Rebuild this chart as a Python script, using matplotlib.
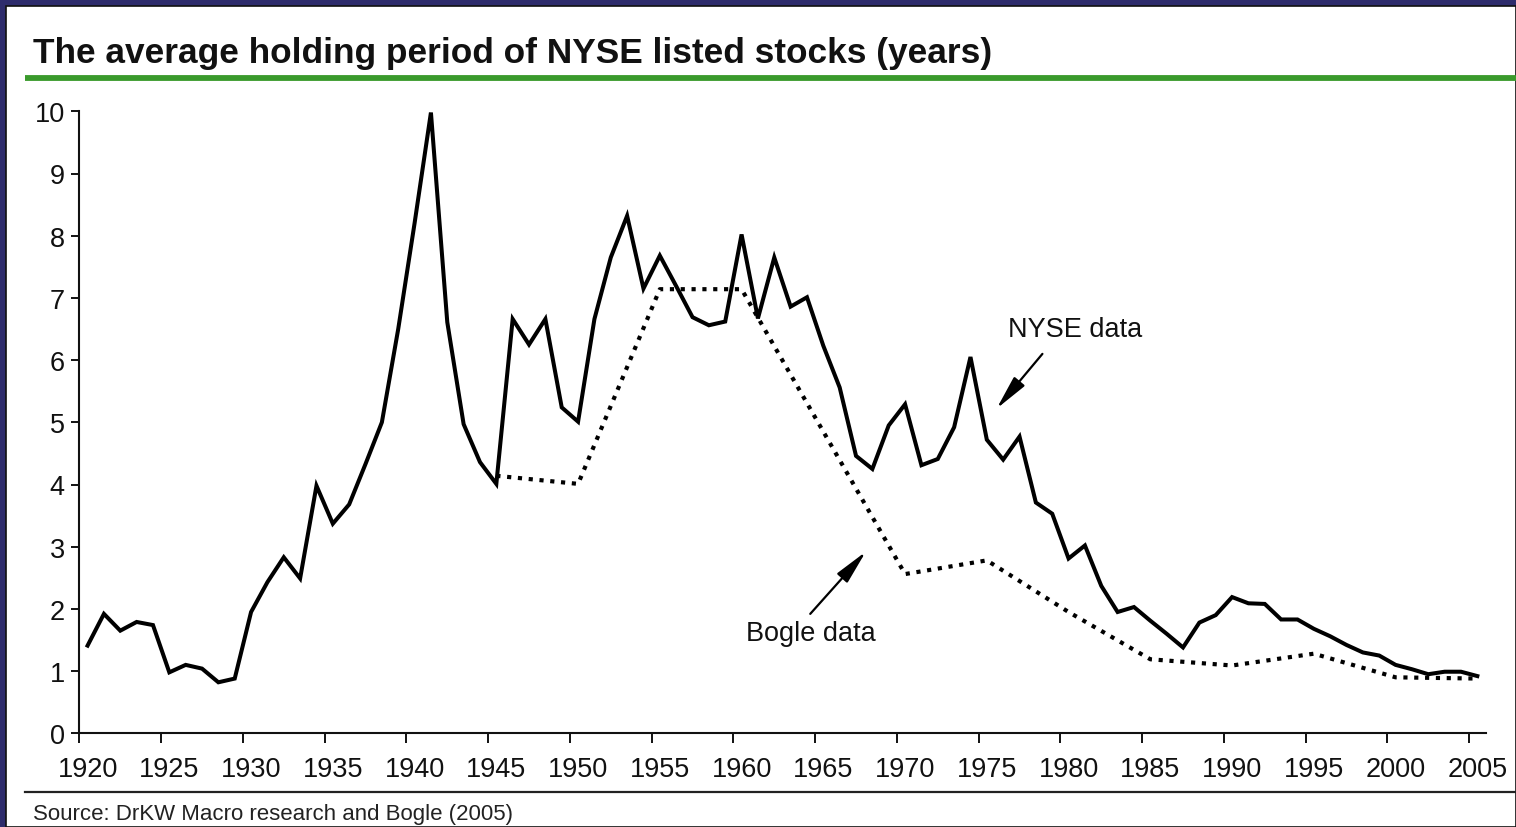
import matplotlib
matplotlib.use("Agg")
import matplotlib.pyplot as plt
from matplotlib.patches import Rectangle
from matplotlib.lines import Line2D
import numpy as np

# ---- data ----
nyse_years = list(range(1920, 2006))
nyse_values = [
    1.41, 1.92, 1.65, 1.79, 1.74, 0.98, 1.10, 1.04, 0.82, 0.88,   # 1920-1929
    1.95, 2.43, 2.83, 2.49, 3.98, 3.37, 3.68, 4.33, 5.00, 6.50,   # 1930-1939
    8.20, 9.98, 6.61, 4.97, 4.36, 4.01, 6.66, 6.25, 6.66, 5.24,   # 1940-1949
    5.01, 6.66, 7.65, 8.32, 7.15, 7.68, 7.19, 6.69, 6.56, 6.62,   # 1950-1959
    8.02, 6.67, 7.65, 6.86, 7.01, 6.23, 5.56, 4.46, 4.25, 4.95,   # 1960-1969
    5.29, 4.31, 4.41, 4.92, 6.05, 4.72, 4.40, 4.77, 3.71, 3.53,   # 1970-1979
    2.81, 3.02, 2.37, 1.95, 2.03, 1.81, 1.60, 1.38, 1.78, 1.90,   # 1980-1989
    2.19, 2.09, 2.08, 1.83, 1.83, 1.68, 1.56, 1.42, 1.30, 1.25,   # 1990-1999
    1.10, 1.03, 0.95, 0.99, 0.99, 0.92,                           # 2000-2005
]
bogle_years = [1945, 1950, 1955, 1960, 1965, 1970, 1975, 1980, 1985, 1990, 1995, 2000, 2005]
bogle_values = [4.14, 4.01, 7.14, 7.14, 4.85, 2.56, 2.78, 1.95, 1.19, 1.09, 1.28, 0.90, 0.88]

x_ticks = list(range(1920, 2006, 5))
y_ticks = list(range(0, 11))

title = "The average holding period of NYSE listed stocks (years)"
source = "Source: DrKW Macro research and Bogle (2005)"

# ---- figure ----
W, H, DPI = 1516, 828, 100
plt.rcParams['font.family'] = ['Liberation Sans', 'DejaVu Sans']
fig = plt.figure(figsize=(W / DPI, H / DPI), dpi=DPI)
fig.patch.set_facecolor('#2e2c6c')

def fx(px):
    return px / W

def fy(py):
    return 1 - py / H

# white panel with thin dark edge
fig.add_artist(Rectangle((fx(6), 0), 1 - fx(6), fy(7), transform=fig.transFigure,
                         facecolor='white', edgecolor='#111111', linewidth=1.2, zorder=0))

# title + green rule
fig.text(fx(33), fy(63), title, fontsize=25.4, fontweight='bold', color='#111111',
         ha='left', va='baseline')
fig.add_artist(Line2D([fx(25), 1.0], [fy(79), fy(79)], color='#3a9a2c', linewidth=4.2,
                      transform=fig.transFigure, solid_capstyle='butt'))
# bottom rule + source
fig.add_artist(Line2D([fx(25), 1.0], [fy(793), fy(793)], color='#222222', linewidth=1.6,
                      transform=fig.transFigure))
fig.text(fx(33), fy(815), source, fontsize=16, color='#222222', ha='left', va='center')

# axes
left, right = 79.4, 1485.5
top, bottom = 112.3, 734.3
ax = fig.add_axes([fx(left), fy(bottom), fx(right - left), (bottom - top) / H])
ax.set_facecolor('none')

# points sit in the middle of each year slot
nx = np.array(nyse_years) + 0.5
bx = np.array(bogle_years) + 0.5
ax.plot(nx, nyse_values, color='black', linewidth=2.9, solid_joinstyle='miter', zorder=3)
ax.plot(bx, bogle_values, color='black', linewidth=3.0, linestyle=(0, (1.0, 1.6)),
        dash_capstyle='butt', zorder=2)

ax.set_xlim(1920, 2006)
ax.set_ylim(0, 10)
# tick marks at slot boundaries, labels centred on the year slot
ax.set_xticks(x_ticks)
ax.set_xticklabels([''] * len(x_ticks))
ax.set_xticks([v + 0.5 for v in x_ticks], minor=True)
ax.set_xticklabels([str(v) for v in x_ticks], minor=True)
ax.set_yticks(y_ticks)
ax.set_yticklabels([str(v) for v in y_ticks])
ax.tick_params(axis='x', which='major', direction='out', length=7, width=1.4,
               colors='#111111')
ax.tick_params(axis='x', which='minor', length=0, pad=16, labelsize=19.5,
               colors='#111111')
ax.tick_params(axis='y', direction='out', length=5.5, width=1.4, pad=5, labelsize=19.5,
               colors='#111111')
for s in ('top', 'right'):
    ax.spines[s].set_visible(False)
for s in ('left', 'bottom'):
    ax.spines[s].set_linewidth(1.5)
    ax.spines[s].set_color('#111111')

# annotations
arrow_kw = dict(arrowstyle='-|>,head_length=1.5,head_width=0.3', color='black',
                linewidth=1.6, mutation_scale=14, shrinkA=0, shrinkB=0)
ax.text(1976.8, 6.50, 'NYSE data', fontsize=19.5, ha='left', va='center', color='#111111')
ax.annotate('', xy=(1976.1, 5.22), xytext=(1978.9, 6.10), arrowprops=arrow_kw)
ax.text(1960.8, 1.61, 'Bogle data', fontsize=19.5, ha='left', va='center', color='#111111')
ax.annotate('', xy=(1968.1, 2.92), xytext=(1964.7, 1.92), arrowprops=arrow_kw)

fig.savefig('out.png', dpi=DPI, facecolor=fig.get_facecolor())
